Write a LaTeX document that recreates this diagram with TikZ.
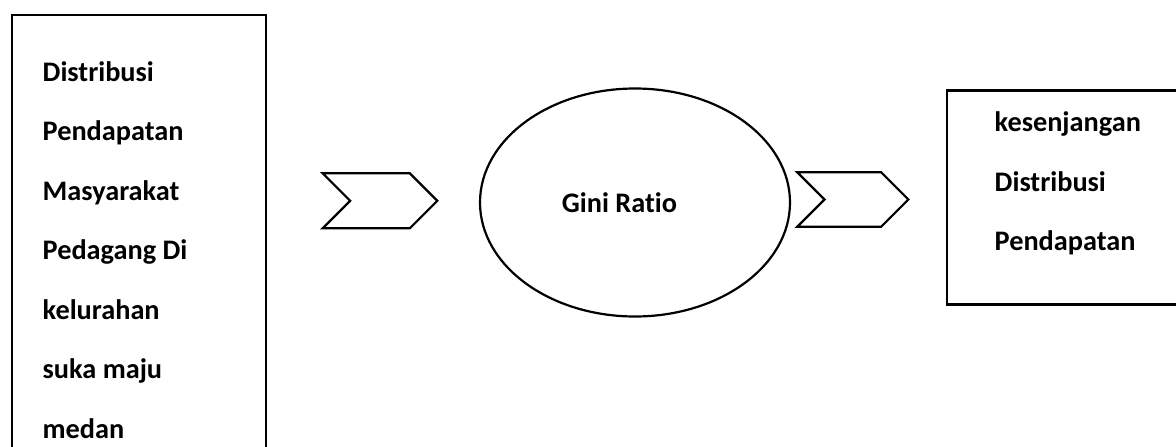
\documentclass[tikz,border=0pt]{standalone}
\usepackage{fontspec}
\setmainfont[Ligatures=NoCommon]{Carlito}
\usetikzlibrary{shapes.geometric,shapes.symbols}

\tikzset{
  frame/.style={draw, line width=2.2pt, rectangle, inner sep=0pt, anchor=north west},
  chevron/.style={draw, line width=2.2pt, signal, signal from=west, signal to=east,
                  signal pointer angle=90, inner sep=0pt},
  label/.style={anchor=base west, inner sep=0pt, font=\fontsize{28.3}{32}\selectfont\bfseries},
}

\begin{document}
\begin{tikzpicture}[x=1pt, y=-1pt]
  \useasboundingbox (0,0) rectangle (1176,447);
  \clip (0,0) rectangle (1176,447);

  % source box (runs past the lower edge)
  \node[frame, minimum width=254pt, minimum height=480pt] (src) at (11,14) {};
  \foreach \t [count=\i] in {Distribusi, Pendapatan, Masyarakat, Pedagang Di,
                             kelurahan, suka maju, medan}
    \node[label] (src\i) at (42.5, {81 + (\i-1)*59.5}) {\t};

  % first chevron
  \node[chevron, minimum width=114.6pt, minimum height=55pt] (arrA) at (380,200.8) {};

  % Gini ratio ellipse
  \node[draw, line width=2.2pt, ellipse, inner sep=0pt,
        minimum width=310pt, minimum height=228pt] (gini) at (635,202.5) {};
  \node[label] (giniText) at (561.7,212.7) {Gini Ratio};

  % second chevron
  \node[chevron, minimum width=111pt, minimum height=54.4pt] (arrB) at (852.8,199.5) {};

  % result box (runs past the right edge)
  \node[frame, minimum width=260pt, minimum height=214pt] (res) at (945.7,89.3) {};
  \foreach \t [count=\i] in {kesenjangan, Distribusi, Pendapatan}
    \node[label] (res\i) at (994.5, {131.5 + (\i-1)*59.5}) {\t};
\end{tikzpicture}
\end{document}
